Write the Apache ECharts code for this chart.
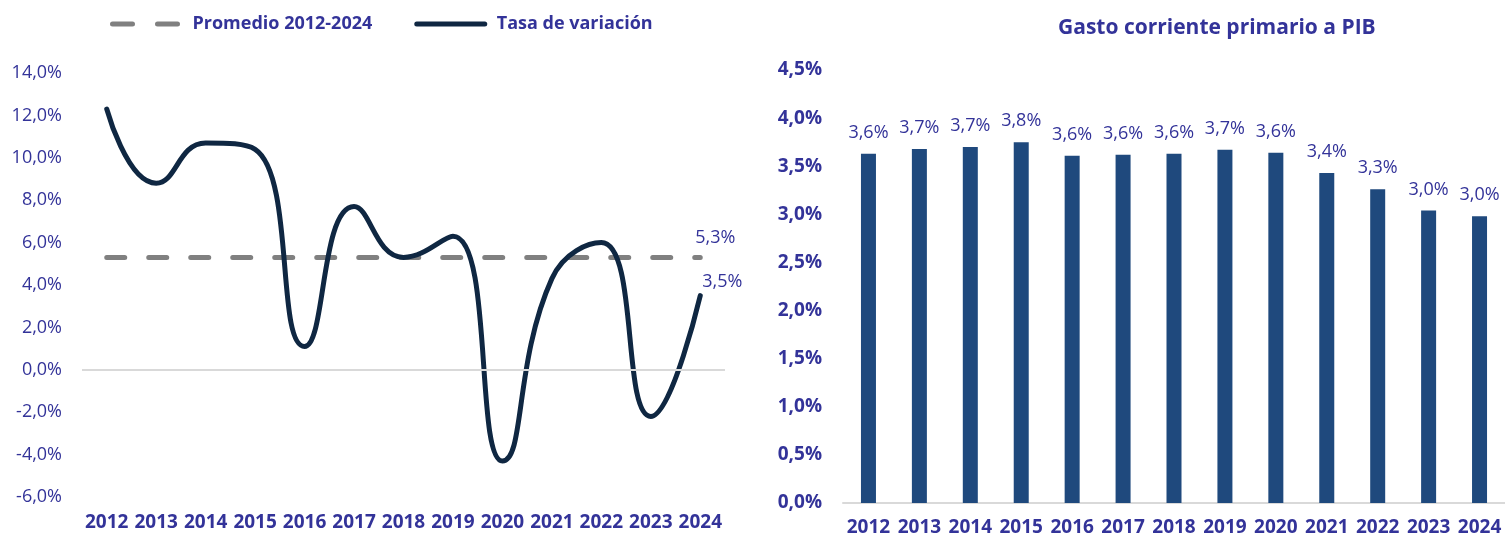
<!DOCTYPE html>
<html>
<head>
<meta charset="utf-8">
<script src="https://cdn.jsdelivr.net/npm/echarts@6/dist/echarts.min.js"></script>
<style>
  html, body { margin: 0; padding: 0; background: #fff; }
  #chart { width: 1505px; height: 537px; }
</style>
</head>
<body>
<div id="chart"></div>
<script>
const years = ["2012", "2013", "2014", "2015", "2016", "2017", "2018", "2019", "2020", "2021", "2022", "2023", "2024"];
// tasa de variacion (%)
const tasa = [12.3, 8.8, 10.7, 10.4, 1.1, 7.7, 5.3, 6.3, -4.3, 4.3, 6.0, -2.2, 3.5];
// promedio 2012-2024 (%)
const promedio = [5.3, 5.3, 5.3, 5.3, 5.3, 5.3, 5.3, 5.3, 5.3, 5.3, 5.3, 5.3, 5.3];
// gasto corriente primario a PIB (%)
const gasto = [3.63, 3.68, 3.70, 3.75, 3.61, 3.62, 3.63, 3.67, 3.64, 3.43, 3.26, 3.04, 2.98];

const blueText = "#333399";
const font = "'Open Sans', 'Noto Sans', sans-serif";

function fmt(v) {
  return Number(v).toFixed(1).replace(".", ",") + "%";
}

const chart = echarts.init(document.getElementById("chart"));

chart.setOption({
  animation: false,
  textStyle: { fontFamily: font },
  title: {
    text: "Gasto corriente primario a PIB",
    left: 1053,
    top: 13,
    textStyle: { color: blueText, fontSize: 21, fontWeight: "bold", fontFamily: font },
  },
  legend: {
    left: 105,
    top: 10,
    itemWidth: 68,
    itemHeight: 14,
    itemGap: 42,
    itemStyle: { opacity: 0 },
    lineStyle: { width: 5, cap: "round" },
    textStyle: { color: blueText, fontSize: 18, fontWeight: "bold", fontFamily: font, padding: [0, 0, 0, 7] },
    data: [
      { name: "Promedio 2012-2024", lineStyle: { type: [20, 25], width: 5, cap: "round" } },
      { name: "Tasa de variación", lineStyle: { width: 5, cap: "round" } },
    ],
  },
  grid: [
    { left: 82, top: 73, width: 643, height: 424 },
    { left: 843, top: 70, width: 664, height: 433 },
  ],
  xAxis: [
    {
      type: "category",
      gridIndex: 0,
      data: years,
      axisLine: { show: false, onZero: false },
      axisTick: { show: false },
      axisLabel: { interval: 0, color: blueText, fontSize: 19, fontWeight: "bold", fontFamily: font, margin: 16 },
    },
    {
      type: "category",
      gridIndex: 1,
      data: years,
      axisLine: { lineStyle: { color: "#d9d9d9", width: 2 } },
      axisTick: { show: false },
      axisLabel: { interval: 0, color: blueText, fontSize: 19, fontWeight: "bold", fontFamily: font, margin: 15 },
    },
  ],
  yAxis: [
    {
      type: "value",
      gridIndex: 0,
      min: -6,
      max: 14,
      interval: 2,
      splitLine: { show: false },
      axisLine: { show: false },
      axisLabel: { color: blueText, fontSize: 18, fontFamily: font, margin: 20, formatter: fmt },
    },
    {
      type: "value",
      gridIndex: 1,
      min: 0,
      max: 4.5,
      interval: 0.5,
      splitLine: { show: false },
      axisLine: { show: false },
      axisLabel: { color: blueText, fontSize: 19, fontWeight: "bold", fontFamily: font, margin: 21, formatter: fmt },
    },
  ],
  series: [
    {
      name: "Promedio 2012-2024",
      type: "line",
      xAxisIndex: 0,
      yAxisIndex: 0,
      data: promedio,
      symbol: "none",
      color: "#808080",
      lineStyle: { color: "#808080", width: 5, type: [18, 24], cap: "round" },
      endLabel: {
        show: true,
        formatter: (p) => fmt(p.value),
        color: blueText,
        fontSize: 18,
        fontFamily: font,
        distance: 0,
        offset: [-5, -20],
      },
      markLine: {
        silent: true,
        symbol: ["none", "none"],
        label: { show: false },
        lineStyle: { color: "#d9d9d9", width: 2, type: "solid" },
        data: [{ yAxis: 0 }],
      },
      z: 2,
    },
    {
      name: "Tasa de variación",
      type: "line",
      xAxisIndex: 0,
      yAxisIndex: 0,
      data: tasa,
      smooth: 0.5,
      symbol: "none",
      color: "#0f2742",
      lineStyle: { color: "#0f2742", width: 5, cap: "round" },
      endLabel: {
        show: true,
        formatter: (p) => fmt(p.value),
        color: blueText,
        fontSize: 18,
        fontFamily: font,
        distance: 0,
        offset: [2, -14],
      },
      z: 3,
    },
    {
      name: "Gasto",
      type: "bar",
      xAxisIndex: 1,
      yAxisIndex: 1,
      data: gasto,
      barWidth: 15,
      itemStyle: { color: "#1f497d" },
      label: {
        show: true,
        position: "top",
        distance: 12,
        color: blueText,
        fontSize: 18,
        fontFamily: font,
        formatter: (p) => fmt(p.value),
      },
    },
  ],
});
</script>
</body>
</html>
